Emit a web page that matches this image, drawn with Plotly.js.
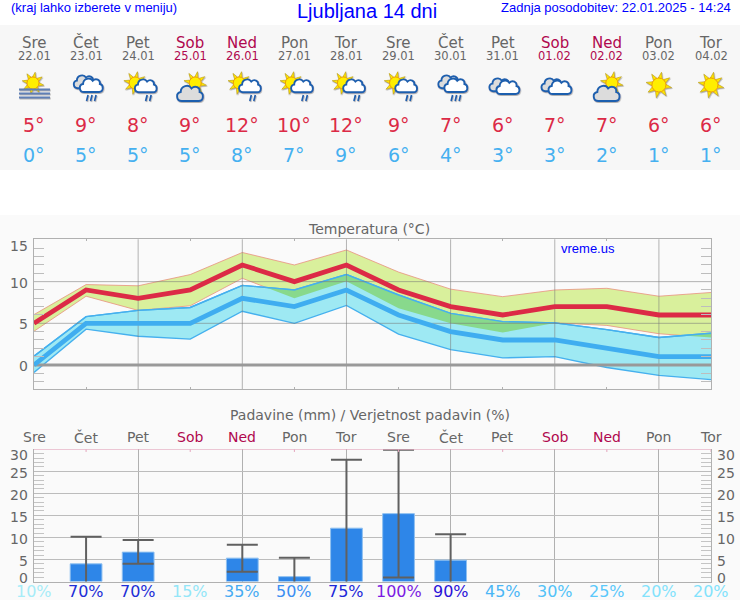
<!DOCTYPE html>
<html><head><meta charset="utf-8">
<script src="https://cdn.plot.ly/plotly-3.0.1.min.js"></script>
<style>html,body{margin:0;padding:0;background:#fff}#c{width:740px;height:600px}</style>
</head><body><div id="c"></div>
<script>
const dayNames=["Sre","Čet","Pet","Sob","Ned","Pon","Tor","Sre","Čet","Pet","Sob","Ned","Pon","Tor"];
const dates=["22.01","23.01","24.01","25.01","26.01","27.01","28.01","29.01","30.01","31.01","01.02","02.02","03.02","04.02"];
const weekend=["Sob","Ned"];
const iconKinds=["fog","rain","sunrain","suncloud","sunrain","sunrain","sunrain","sunrain","rain","clouds","clouds","suncloud","sun","sun"];
const maxTemp=[5,9,8,9,12,10,12,9,7,6,7,7,6,6];
const minTemp=[0,5,5,5,8,7,9,6,4,3,3,2,1,1];
const maxHigh=[6.05,9.65,9.5,10.85,13.5,12.0,13.8,11.15,9.1,8.2,9.0,9.2,8.25,8.7];
const maxLow=[4.05,8.25,6.55,7.1,10.4,8.0,10.05,6.8,5.0,3.9,5.05,4.75,3.75,3.3];
const minHigh=[1.05,5.8,6.55,6.9,9.55,9.0,10.85,8.4,6.2,5.2,5.05,4.25,3.3,3.8];
const minLow=[-0.9,4.3,3.45,3.1,6.45,5.0,7.15,3.7,1.85,0.85,1.0,-0.3,-1.25,-1.75];
const rain=[null,4.0,6.67,null,5.3,1.1,12.1,15.4,4.85,null,null,null,null,null];
const rainHigh=[null,10.15,9.4,null,8.33,5.4,27.65,29.9,10.75,null,null,null,null,null];
const rainLow=[null,-1,4.0,null,2.2,-1,-1,0.9,-1,null,null,null,null,null];
const rainProb=[10,70,70,15,35,50,75,100,90,45,30,25,20,20];
const probColors=["#a6ecf8","#1c2ed6","#1c2ed6","#93e6f8","#45aaf2","#3a8ef2","#1c28d8","#7a1ae2","#2a12d8","#4ab6f6","#52c2f8","#5ac8fa","#82e2fc","#82e2fc"];
const tempTicks=[15,10,5,0];
const rainTicks=[30,25,20,15,10,5,0];

const idx=dayNames.map((_,i)=>i);
const GREY="#666666",HOL="#b0084e",DV="DejaVu Sans",LS="Liberation Sans";
const X0=34,XW=677,Y=p=>1-p/600,colPx=i=>X0+XW*i/13;
const dayColor=n=>weekend.includes(n)?HOL:GREY;

/* overlap of the max band and the min band */
function overlap(){
  const xs=[],ys=[];let top=[],bot=[];
  const flush=()=>{if(top.length){top.forEach(p=>{xs.push(p[0]);ys.push(p[1]);});bot.reverse().forEach(p=>{xs.push(p[0]);ys.push(p[1]);});xs.push(null);ys.push(null);}top=[];bot=[];};
  for(let i=0;i<13;i++){
    const d0=minHigh[i]-maxLow[i],d1=minHigh[i+1]-maxLow[i+1];
    if(d0>0){top.push([i,minHigh[i]]);bot.push([i,maxLow[i]]);}
    if((d0>0)!==(d1>0)){const t=d0/(d0-d1),v=maxLow[i]+t*(maxLow[i+1]-maxLow[i]);
      top.push([i+t,v]);bot.push([i+t,v]);if(d1<=0)flush();}
  }
  if(minHigh[13]>maxLow[13]){top.push([13,minHigh[13]]);bot.push([13,maxLow[13]]);}
  flush();return{xs,ys};
}
const ov=overlap();

/* grid lines drawn over the bands */
const gridX=[],gridXY=[];for(let i=2;i<13;i+=2){gridX.push(i,i,null);gridXY.push(-3,16,null);}
const gridH=[5,10];const gridHX=[],gridHY=[];gridH.forEach(v=>{gridHX.push(0,13,null);gridHY.push(v,v,null);});

const sc=(o)=>Object.assign({type:"scatter",mode:"lines",xaxis:"x",yaxis:"y",hoverinfo:"skip",showlegend:false},o);
const traces=[
 sc({x:idx,y:maxLow,line:{color:"#e8907f",width:0.8}}),
 sc({x:idx,y:maxHigh,line:{color:"#e8907f",width:0.8},fill:"tonexty",fillcolor:"#d9f09c"}),
 sc({x:idx,y:minLow,line:{color:"#45b0ee",width:1.4}}),
 sc({x:idx,y:minHigh,line:{color:"#45b0ee",width:1.4},fill:"tonexty",fillcolor:"#9ee9f3"}),
 sc({x:ov.xs,y:ov.ys,fill:"toself",fillcolor:"#88d98c",line:{width:0}}),
 sc({x:idx,y:minHigh,line:{color:"#45b0ee",width:1.4}}),
 sc({x:gridX,y:gridXY,line:{color:"rgba(120,120,120,0.55)",width:1}}),
 sc({x:gridHX,y:gridHY,line:{color:"rgba(120,120,120,0.55)",width:1}}),
 sc({x:[0,13],y:[0,0],line:{color:"#999999",width:3}}),
 sc({x:idx,y:minTemp,line:{color:"#3fadf0",width:4.8,join:"miter"}}),
 sc({x:idx,y:maxTemp,line:{color:"#dc2a46",width:4.8,join:"miter"}}),
 {type:"bar",x:idx,y:rain,xaxis:"x2",yaxis:"y2",width:0.61,hoverinfo:"skip",showlegend:false,
  marker:{color:"#2e86e8",line:{color:"#8fc0f0",width:1}},
  error_y:{type:"data",symmetric:false,
   array:rain.map((v,i)=>v===null?null:rainHigh[i]-v),
   arrayminus:rain.map((v,i)=>v===null?null:v-rainLow[i]),
   color:"#606060",thickness:2,width:15.5}}
];

const ann=[];
const txt=(o)=>ann.push(Object.assign({showarrow:false,borderpad:0,xanchor:"center",yanchor:"middle"},o));
const f=(size,color,family)=>({size,color,family:family||DV});
txt({text:"(kraj lahko izberete v meniju)",xref:"paper",yref:"paper",x:10/740,xanchor:"left",y:Y(7),font:f(13,"#0000ff",LS)});
txt({text:"Ljubljana 14 dni",xref:"paper",yref:"paper",x:367/740,y:Y(11),font:f(20,"#0000ff",LS)});
txt({text:"Zadnja posodobitev: 22.01.2025 - 14:24",xref:"paper",yref:"paper",x:732/740,xanchor:"right",y:Y(7),font:f(13,"#0000ff",LS)});
idx.forEach(i=>{
 const c=dayColor(dayNames[i]);
 txt({text:dayNames[i],xref:"x",yref:"paper",x:i,y:Y(43),font:f(15,c)});
 txt({text:dates[i],xref:"x",yref:"paper",x:i,y:Y(56),font:f(11.5,c)});
 txt({text:maxTemp[i]+"°",xref:"x",yref:"paper",x:i,y:Y(125),font:f(19,"#dc2a46")});
 txt({text:minTemp[i]+"°",xref:"x",yref:"paper",x:i,y:Y(155),font:f(19,"#45b0f0")});
 txt({text:dayNames[i],xref:"x",yref:"paper",x:i,y:Y(437),font:f(14,c)});
 txt({text:rainProb[i]+"%",xref:"x",yref:"paper",x:i,y:Y(591),font:f(16,probColors[i])});
});
txt({text:"Temperatura (°C)",xref:"paper",yref:"paper",x:369/740,y:Y(229),font:f(14,GREY)});
txt({text:"Padavine (mm) / Verjetnost padavin (%)",xref:"paper",yref:"paper",x:370/740,y:Y(415),font:f(14,GREY)});
txt({text:"vreme.us",xref:"paper",yref:"paper",x:560/740,xanchor:"left",y:Y(248),font:f(13,"#0000ff",LS)});
const tShift={15:-6.4,10:-1.4,5:-1,0:-0.7};
tempTicks.forEach(v=>txt({text:String(v),xref:"paper",yref:"y",x:29/740,xanchor:"right",y:v,yshift:tShift[v],font:f(14,GREY)}));
const rShift={30:-5.7,25:-2,20:-2,15:-2,10:-2,5:-2,0:4};
rainTicks.forEach(v=>{
 txt({text:String(v),xref:"paper",yref:"y2",x:29/740,xanchor:"right",y:v,yshift:rShift[v],font:f(14,GREY)});
 txt({text:String(v),xref:"paper",yref:"y2",x:716/740,xanchor:"left",y:v,yshift:rShift[v],font:f(14,GREY)});
});

/* weather icons as small inline vector pictures */
const CL="M6 20 C0 20 -1 11 5 10 C5 3 14 1 17 6 C21 2 27 5 26 10 C31 11 31 20 25 20 Z";
function cloud(x,y,s,fill){return `<path transform="translate(${x} ${y}) scale(${s})" d="${CL}" fill="${fill}" stroke="#1f5fae" stroke-width="${1.9/s}"/>`;}
function sun(cx,cy,r,R){let a="";for(let k=0;k<8;k++){const t=k*Math.PI/4+0.2,w=0.3,
  p=[[cx+r*Math.cos(t-w),cy+r*Math.sin(t-w)],[cx+R*Math.cos(t),cy+R*Math.sin(t)],[cx+r*Math.cos(t+w),cy+r*Math.sin(t+w)]];
  a+=`<polygon points="${p.map(q=>q.join(",")).join(" ")}" fill="#ffe600" stroke="#b89a00" stroke-width="0.6"/>`;}
  return a+`<circle cx="${cx}" cy="${cy}" r="${r}" fill="#ffee00" stroke="#f0a000" stroke-width="1"/>`;}
function drops(xs,y0,y1){return xs.map(x=>`<line x1="${x+1}" y1="${y0}" x2="${x-0.5}" y2="${y1}" stroke="#1f5fae" stroke-width="1.7"/>`).join("");}
const iconBody={
 sun:()=>sun(20,18,7,13),
 fog:()=>sun(19,16,6,11)+[22.5,26.5,30.5].map(y=>`<line x1="5" x2="36" y1="${y}" y2="${y}" stroke="#5f7fb5" stroke-width="2"/>`).join(""),
 rain:()=>cloud(7,6,0.76,"#dcdcdc")+cloud(13,9,0.8,"#ffffff")+drops([21,25,29],28,34),
 sunrain:()=>sun(17,16,6,11.5)+cloud(16,10,0.76,"#ffffff")+drops([28,32],28,34),
 suncloud:()=>sun(25,16,6,11.5)+cloud(6,16,0.9,"#dcdcdc"),
 clouds:()=>cloud(6,9,0.76,"#dcdcdc")+cloud(13,11,0.8,"#ffffff")
};
const iconSrc=k=>"data:image/svg+xml;charset=utf-8,"+encodeURIComponent(
 `<svg xmlns="http://www.w3.org/2000/svg" width="120" height="120" viewBox="0 0 40 40"><defs><filter id="s" x="-20%" y="-20%" width="140%" height="140%"><feDropShadow dx="0.6" dy="0.9" stdDeviation="0.5" flood-color="#777" flood-opacity="0.6"/></filter></defs><g filter="url(#s)">${iconBody[k]()}</g></svg>`);
const images=idx.map(i=>({source:iconSrc(iconKinds[i]),xref:"paper",yref:"paper",x:colPx(i)/740,y:Y(67),sizex:40/740,sizey:40/600,xanchor:"center",yanchor:"top",layer:"above",sizing:"contain"}));

/* panels and the pink cap line */
const shapes=[
 {type:"rect",xref:"paper",yref:"paper",x0:0,x1:1,y0:Y(170),y1:Y(25),fillcolor:"#f7f7f7",line:{width:0},layer:"below"},
 {type:"rect",xref:"paper",yref:"paper",x0:0,x1:1,y0:0,y1:Y(215),fillcolor:"#fafafa",line:{width:0},layer:"below"},
 {type:"line",xref:"x2",yref:"y2",x0:0,x1:13,y0:30,y1:30,line:{color:"#e3a3bb",width:1}}
];
idx.filter(i=>i%2===1).forEach(i=>shapes.push({type:"line",xref:"x2",yref:"y2",x0:i,x1:i,y0:30,y1:29.4,line:{color:"#e3a3bb",width:1}}));

const xCommon={range:[0,13],tick0:0,dtick:2,showticklabels:false,showline:true,linecolor:"#b0b0b0",linewidth:1,zeroline:false,fixedrange:true};
const layout={
 width:740,height:600,margin:{l:0,r:0,t:0,b:0,pad:0},paper_bgcolor:"#ffffff",plot_bgcolor:"rgba(0,0,0,0)",showlegend:false,
 barmode:"overlay",
 xaxis:Object.assign({},xCommon,{domain:[X0/740,(X0+XW)/740],anchor:"y",mirror:"ticks",showgrid:false,ticks:"",
   minor:{dtick:1,tick0:1,ticks:"inside",ticklen:2,tickcolor:"#b0b0b0",tickwidth:1,showgrid:false}}),
 yaxis:{domain:[Y(389),Y(239.3)],anchor:"x",range:[-2.88,15.08],tick0:0,dtick:5,showticklabels:false,showgrid:false,zeroline:false,showline:true,linecolor:"#b0b0b0",mirror:"ticks",ticks:"",fixedrange:true,
   minor:{dtick:1,tick0:0,ticks:"inside",ticklen:10,tickcolor:"#bdbdbd",tickwidth:1,showgrid:false}},
 xaxis2:Object.assign({},xCommon,{domain:[X0/740,(X0+XW)/740],anchor:"y2",showgrid:true,gridcolor:"#b0b0b0",gridwidth:1,ticks:""}),
 yaxis2:{domain:[Y(581.5),Y(449.3)],anchor:"x2",range:[0,30],tick0:0,dtick:5,showticklabels:false,showgrid:true,gridcolor:"#bcbcbc",gridwidth:1,zeroline:false,showline:true,linecolor:"#b0b0b0",mirror:"ticks",ticks:"",fixedrange:true,
   minor:{dtick:1,tick0:0,ticks:"inside",ticklen:10,tickcolor:"#c4c4c4",tickwidth:1,showgrid:false}},
 annotations:ann,images,shapes
};
Plotly.newPlot("c",traces,layout,{displayModeBar:false,staticPlot:true});
</script></body></html>
